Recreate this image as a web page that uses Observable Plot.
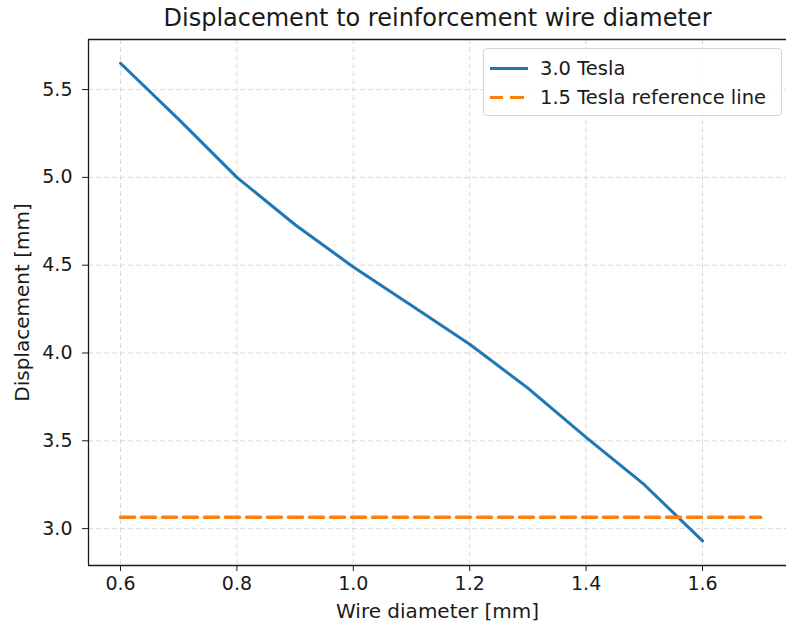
<!DOCTYPE html>
<html>
<head>
<meta charset="utf-8">
<script src="https://cdn.jsdelivr.net/npm/d3@7"></script>
<script src="https://cdn.jsdelivr.net/npm/@observablehq/plot@0.6"></script>
<style>
  html, body { margin: 0; padding: 0; background: white; overflow: hidden; }
  #wrap { position: relative; width: 786px; height: 630px; font-family: "DejaVu Sans", sans-serif; }
  #legend { position: absolute; left: 483px; top: 48px; width: 299px; height: 68px; border: 1px solid #d4d4d4; border-radius: 4px; background: rgba(255,255,255,0.85); box-sizing: border-box; }
  .row { position: absolute; left: 0; height: 22px; display: flex; align-items: center; font-size: 19.5px; color: #1a1a1a; white-space: nowrap; }
  .sw { width: 38px; margin-left: 6px; margin-right: 12px; height: 0; }
</style>
</head>
<body>
<div id="wrap">
  <div id="chart"></div>
  <div id="legend">
    <div class="row" style="top:8px"><div class="sw" style="border-top:3px solid #1f77b4"></div>3.0 Tesla</div>
    <div class="row" style="top:37px"><div class="sw" style="border-top:3.5px solid #ff7f0e; border-image: repeating-linear-gradient(to right,#ff7f0e 0 13px,transparent 13px 20px) 1;"></div>1.5 Tesla reference line</div>
  </div>
</div>
<script>
const diameter = [0.6, 0.7, 0.8, 0.9, 1.0, 1.1, 1.2, 1.3, 1.4, 1.5, 1.6];
const displacement3T = [5.65, 5.33, 5.0, 4.73, 4.49, 4.27, 4.05, 3.80, 3.52, 3.25, 2.93];
const refRange = [0.6, 1.7];
const ref15T = 3.065;
const xTicks = [0.6, 0.8, 1.0, 1.2, 1.4, 1.6];
const yTicks = [3.0, 3.5, 4.0, 4.5, 5.0, 5.5];
const titleText = "Displacement to reinforcement wire diameter";

const series = diameter.map((d, i) => ({x: d, y: displacement3T[i]}));
const refData = refRange.map(x => ({x, y: ref15T}));

const xDomain = [0.545, 1.7443];
const yDomain = [2.79, 5.785];

const chart = Plot.plot({
  width: 786,
  height: 630,
  marginLeft: 88,
  marginRight: 0,
  marginTop: 39,
  marginBottom: 65,
  style: {fontFamily: "DejaVu Sans, sans-serif", fontSize: "19px", color: "#1a1a1a", background: "white"},
  x: {domain: xDomain, ticks: xTicks, tickFormat: d3.format(".1f"), label: null, axis: null},
  y: {domain: yDomain, ticks: yTicks, tickFormat: d3.format(".1f"), label: null, axis: null},
  marks: [
    Plot.gridX(xTicks, {stroke: "#bbbbbb", strokeOpacity: 0.55, strokeDasharray: "5,3", strokeWidth: 1}),
    Plot.gridY(yTicks, {stroke: "#bbbbbb", strokeOpacity: 0.55, strokeDasharray: "5,3", strokeWidth: 1}),
    Plot.axisX(xTicks, {tickSize: 6, tickPadding: 5, tickFormat: d3.format(".1f"), label: null, stroke: "#1a1a1a", fill: "#1a1a1a", fontSize: 19}),
    Plot.axisY(yTicks, {tickSize: 6, tickPadding: 10, tickFormat: d3.format(".1f"), label: null, stroke: "#1a1a1a", fill: "#1a1a1a", fontSize: 19}),
    Plot.ruleY([yDomain[0]], {stroke: "#1a1a1a", strokeWidth: 1.3}),
    Plot.ruleY([yDomain[1]], {stroke: "#1a1a1a", strokeWidth: 1.3}),
    Plot.ruleX([xDomain[0]], {stroke: "#1a1a1a", strokeWidth: 1.3}),
    Plot.line(series, {x: "x", y: "y", stroke: "#1f77b4", strokeWidth: 3}),
    Plot.line(refData, {x: "x", y: "y", stroke: "#ff7f0e", strokeWidth: 3.5, strokeDasharray: "14,7"}),
    Plot.text([titleText], {frameAnchor: "top", dy: -31, fontSize: 24, fill: "#1a1a1a"}),
    Plot.text(["Wire diameter [mm]"], {frameAnchor: "bottom", dy: 52, fontSize: 20, fill: "#1a1a1a"}),
    Plot.text(["Displacement [mm]"], {frameAnchor: "left", textAnchor: "middle", lineAnchor: "middle", dx: -66, rotate: -90, fontSize: 20, fill: "#1a1a1a"})
  ]
});
document.getElementById("chart").appendChild(chart);
</script>
</body>
</html>
